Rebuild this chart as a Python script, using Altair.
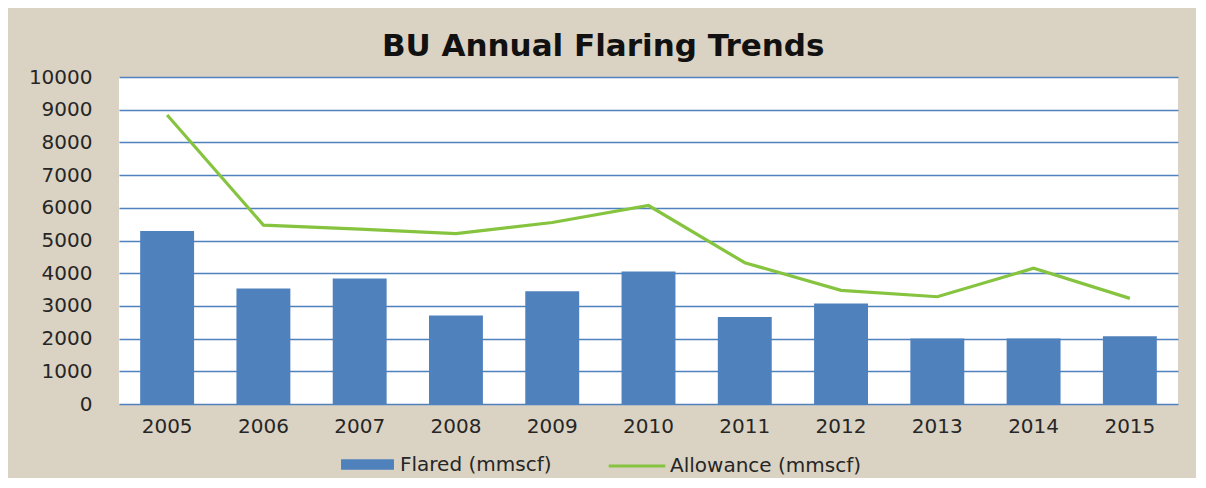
import altair as alt
import pandas as pd

years = ["2005", "2006", "2007", "2008", "2009", "2010", "2011", "2012", "2013", "2014", "2015"]
flared = [5290, 3530, 3840, 2710, 3450, 4050, 2660, 3070, 2000, 2000, 2075]
allowance = [8840, 5470, 5350, 5210, 5550, 6070, 4320, 3475, 3280, 4150, 3230]
y_ticks = [0, 1000, 2000, 3000, 4000, 5000, 6000, 7000, 8000, 9000, 10000]

title_text = "BU Annual Flaring Trends"
flared_name = "Flared (mmscf)"
allow_name = "Allowance (mmscf)"

BLUE = "#4F81BD"
GREEN = "#86C440"
FONT = "DejaVu Sans"

df = pd.DataFrame({"year": years, "flared": flared, "allowance": allowance,
                   "s1": flared_name, "s2": allow_name})

xaxis = alt.Axis(labelAngle=0, domain=False, ticks=False, grid=False,
                 labelFont=FONT, labelFontSize=20, labelColor="#262626",
                 labelPadding=12)
xscale = alt.Scale(paddingInner=0.44, paddingOuter=0.22)

yscale = alt.Scale(domain=[0, 10000], nice=False)
yaxis = alt.Axis(values=y_ticks, format="d", labelOverlap=False,
                 domain=False, ticks=False, grid=True,
                 gridColor=BLUE, gridWidth=1.6, labelFont=FONT,
                 labelFontSize=20, labelColor="#262626", labelPadding=27)

bars = alt.Chart(df).mark_bar(cornerRadius=0).encode(
    x=alt.X("year:N", title=None, scale=xscale, axis=xaxis),
    y=alt.Y("flared:Q", title=None, scale=yscale, axis=yaxis),
    fill=alt.Fill("s1:N", scale=alt.Scale(domain=[flared_name], range=[BLUE]),
                  legend=alt.Legend(title=None, orient="none", legendX=222, legendY=361,
                                    symbolType="M-1,-0.2H1V0.2H-1Z", symbolSize=2800,
                                    symbolStrokeWidth=0, labelFont=FONT, labelFontSize=20,
                                    labelColor="#262626", labelOffset=6, padding=0,
                                    labelLimit=300)),
)

line = alt.Chart(df).mark_line(strokeWidth=3.2).encode(
    x=alt.X("year:N", title=None, scale=xscale, axis=xaxis),
    y=alt.Y("allowance:Q", title=None, scale=yscale, axis=yaxis),
    stroke=alt.Stroke("s2:N", scale=alt.Scale(domain=[allow_name], range=[GREEN]),
                      legend=alt.Legend(title=None, orient="none", legendX=488, legendY=359,
                                        symbolType="stroke", symbolSize=3200,
                                        symbolStrokeWidth=3.2, labelFont=FONT,
                                        labelFontSize=20, labelColor="#262626",
                                        labelOffset=3, padding=0, labelLimit=300)),
)

chart = alt.layer(bars, line).resolve_scale(fill="independent", stroke="independent").properties(
    width=1059,
    height=327,
    autosize=alt.AutoSizeParams(type="none"),
    padding={"left": 111, "top": 69, "right": 18, "bottom": 74},
    background="#DAD2C2",
    title=alt.TitleParams(title_text, font=FONT, fontSize=31, fontWeight="bold",
                          color="#111111", anchor="middle", frame="bounds", offset=4),
).configure_view(fill="white", stroke=None)

chart.save("out.html", embed_options={"renderer": "svg", "actions": False})
